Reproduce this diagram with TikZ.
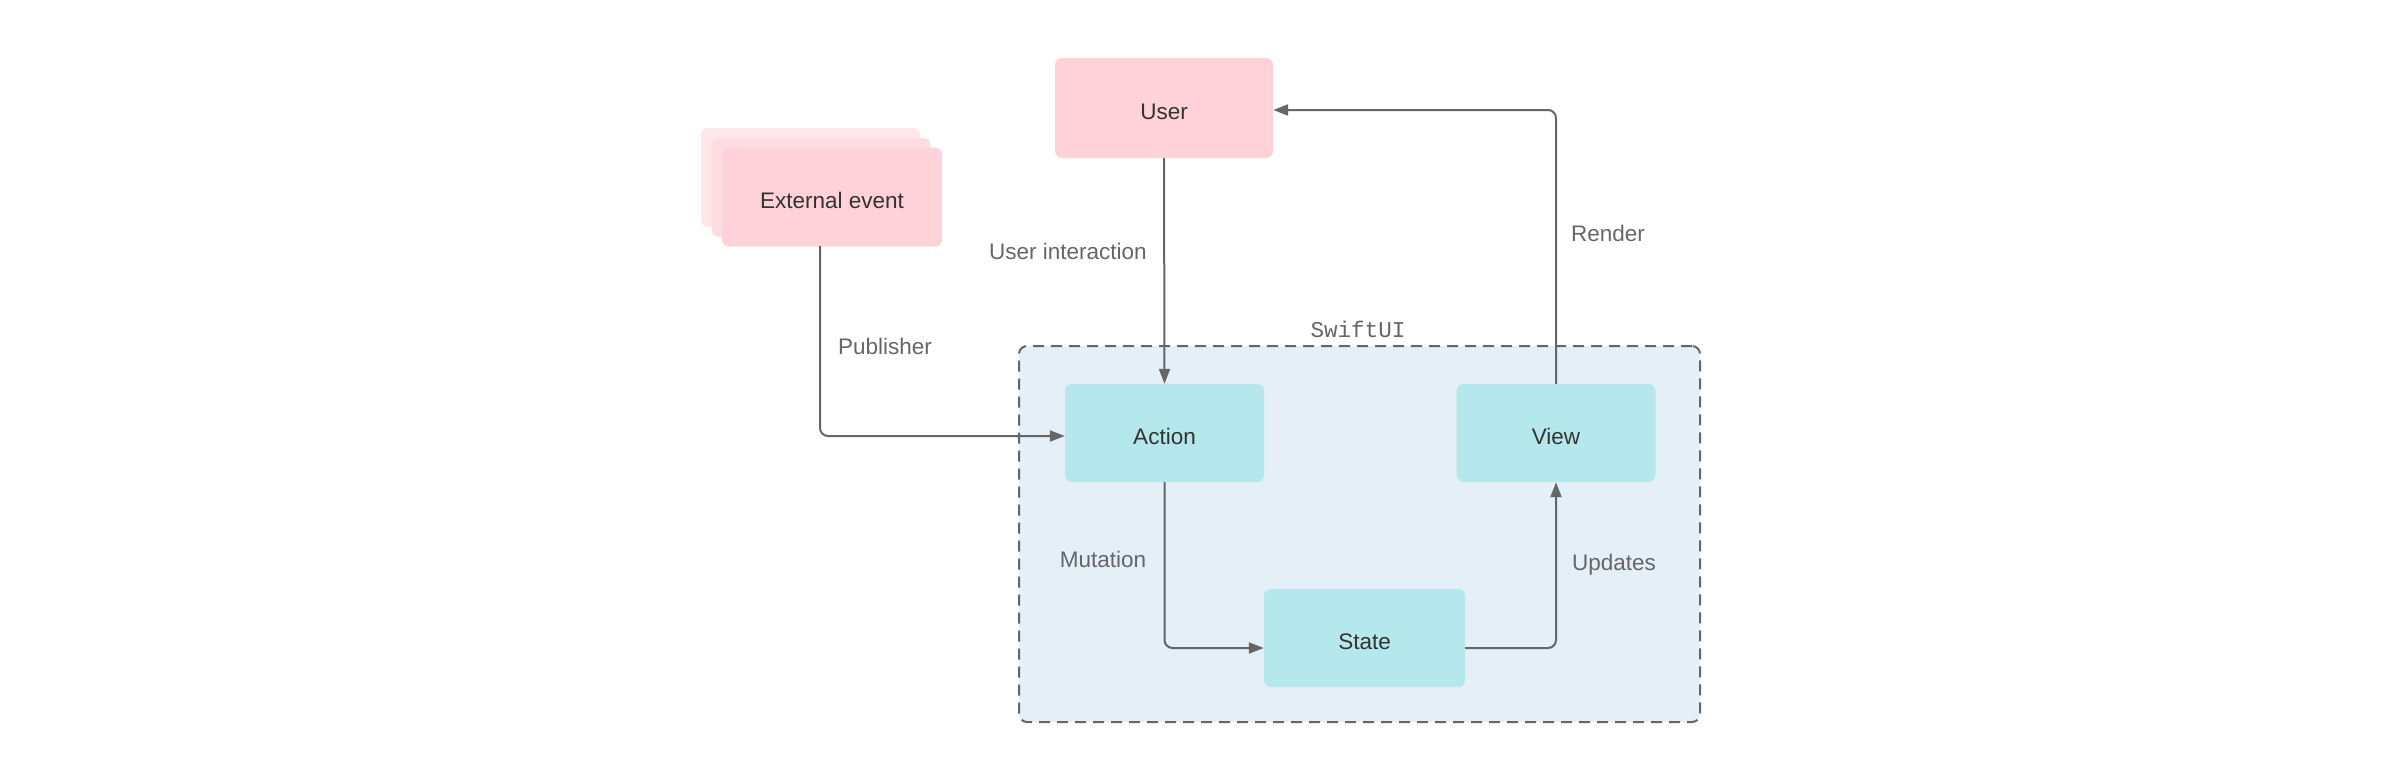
\documentclass[tikz,border=0pt]{standalone}
\usepackage{fontspec}
\setmainfont{Liberation Sans}
\newfontfamily\monofam{Liberation Mono}
\usetikzlibrary{arrows.meta,calc}
\definecolor{pinkbox}{HTML}{FFD1D9}
\definecolor{pinkmid}{HTML}{FFDCE2}
\definecolor{pinkback}{HTML}{FFE6EA}
\definecolor{tealbox}{HTML}{B5E8EC}
\definecolor{swiftbg}{HTML}{E4EFF8}
\definecolor{linegray}{HTML}{666666}
\definecolor{textdark}{HTML}{333333}
\definecolor{labelgray}{HTML}{666666}
\tikzset{
  box/.style={rounded corners=7pt, inner sep=0pt, text=textdark,
    text height=22pt, text depth=0pt,
    font=\fontsize{22.5}{26}\selectfont},
  pinkn/.style={box, fill=pinkbox},
  tealn/.style={box, fill=tealbox},
  lbl/.style={text=labelgray, inner sep=0pt, font=\fontsize{22.5}{26}\selectfont},
  arr/.style={draw=linegray, line width=2pt, rounded corners=8pt,
    -{Triangle[length=15pt,width=11pt]}},
}
\begin{document}
\begin{tikzpicture}[x=1pt,y=-1pt]
\useasboundingbox (0,0) rectangle (2400,782);
% SwiftUI container
\node[draw=linegray, fill=swiftbg, line width=2pt, dash pattern=on 11pt off 7pt,
  rounded corners=8pt, minimum width=681pt, minimum height=376pt, inner sep=0pt]
  (swift) at (1359.5,534) {};
\node[text=labelgray, inner sep=0pt, font=\monofam\fontsize{22.6}{26}\selectfont]
  (swiftlbl) at (1358,329) {SwiftUI};
% External event stack
\node[box, fill=pinkback, minimum width=219pt, minimum height=99pt] (extback) at (810.5,177.5) {};
\node[box, fill=pinkmid, minimum width=219pt, minimum height=99pt] (extmid) at (821,187.5) {};
\node[pinkn, minimum width=220pt, minimum height=99pt] (ext) at (832,197) {External event};
\coordinate (extout) at (820,246);
% Main nodes
\node[pinkn, minimum width=218pt, minimum height=100pt] (user) at (1164,108) {User};
\node[tealn, minimum width=199pt, minimum height=98pt] (action) at (1164.5,433) {Action};
\node[tealn, minimum width=199pt, minimum height=98pt] (view) at (1556,433) {View};
\node[tealn, minimum width=201pt, minimum height=98pt] (state) at (1364.5,638) {State};
% Connectors
\draw[arr] (user.south) -- (action.north);
\draw[arr] (extout) |- ($(action.west)+(0,3)$);
\draw[arr] (action.south) |- ($(state.west)+(0,10)$);
\draw[arr] ($(state.east)+(0,10)$) -| (view.south);
\draw[arr] (view.north) |- ($(user.east)+(0,2)$);
% Labels
\node[lbl] (luser) at (1068,251) {User interaction};
\node[lbl] (lpub) at (885,346) {Publisher};
\node[lbl] (lmut) at (1103,559) {Mutation};
\node[lbl] (lupd) at (1614,565) {Updates};
\node[lbl] (lren) at (1608,233) {Render};
\end{tikzpicture}
\end{document}
